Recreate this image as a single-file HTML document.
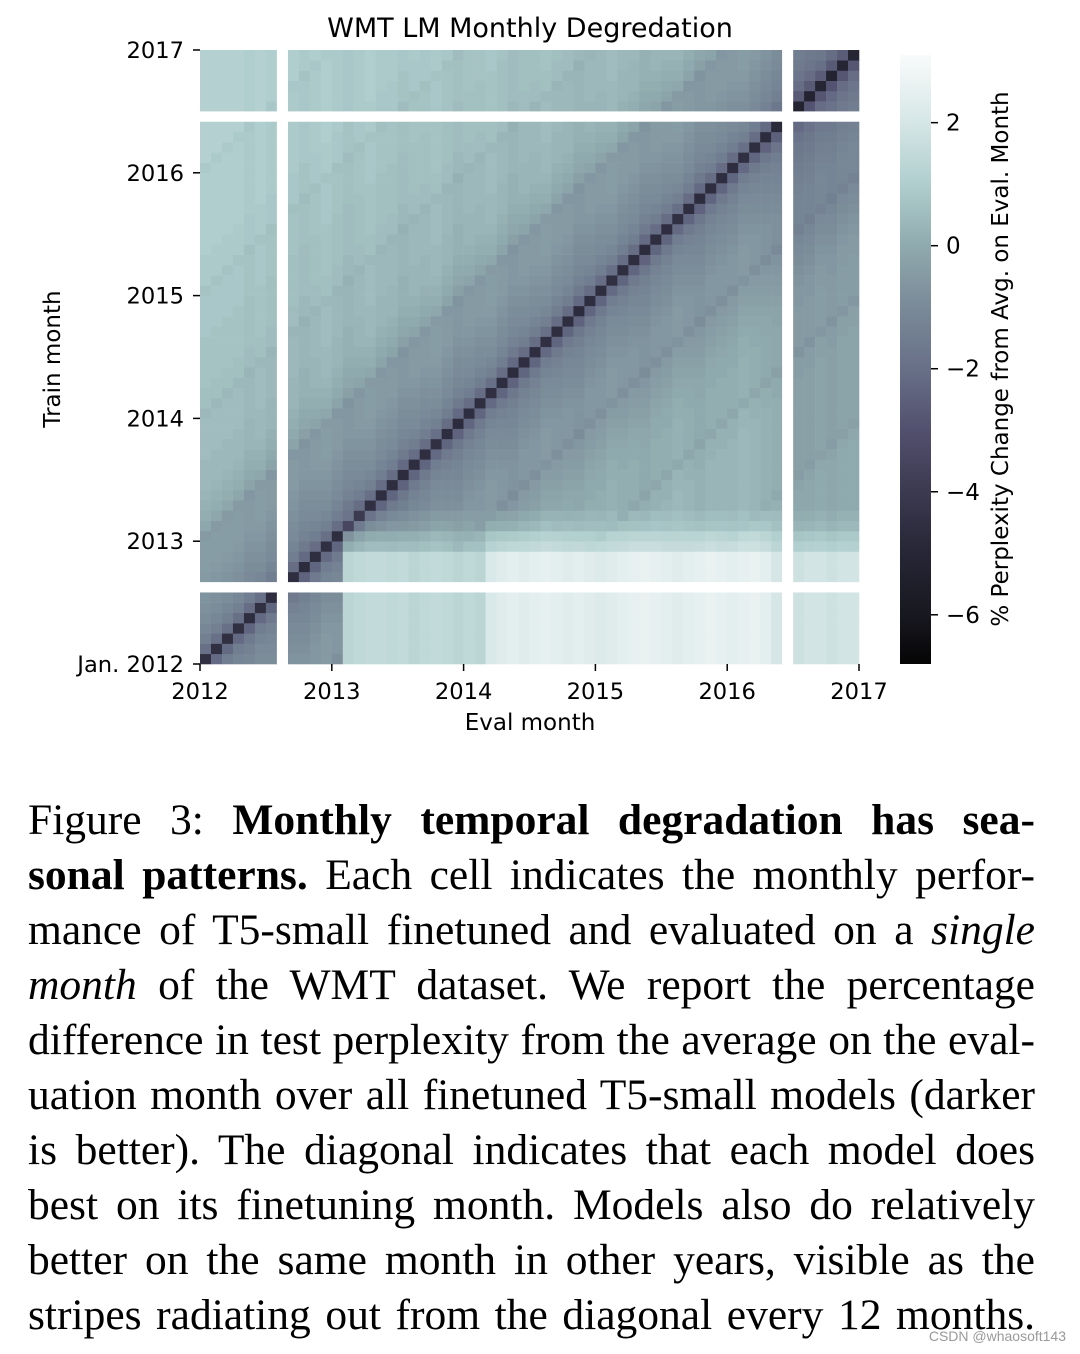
<!DOCTYPE html>
<html><head><meta charset="utf-8">
<style>
body{margin:0;background:#fff;width:1080px;height:1354px;overflow:hidden;position:relative}
svg text{font-family:"DejaVu Sans",sans-serif;fill:#000}
.cap{position:absolute;left:28px;width:1007px;font-family:"Liberation Serif",serif;font-size:43.5px;line-height:55px;color:#000}
.ln{text-align:justify;text-align-last:justify;white-space:nowrap;height:55px}
</style></head><body>
<svg id="chart" width="1080" height="750" style="position:absolute;left:0;top:0">
<g id="cells"></g>
<text x="530" y="37" font-size="27" text-anchor="middle">WMT LM Monthly Degredation</text>
<g id="axes"></g>
<defs><linearGradient id="cb" x1="0" y1="1" x2="0" y2="0"></linearGradient></defs>
<rect x="900" y="55" width="31" height="609" fill="url(#cb)"/>
<text x="530" y="730" font-size="23" text-anchor="middle">Eval month</text>
<text transform="translate(60,359) rotate(-90)" font-size="23" text-anchor="middle">Train month</text>
<text transform="translate(1008,359) rotate(-90)" font-size="23" text-anchor="middle">% Perplexity Change from Avg. on Eval. Month</text>
</svg>
<div class="cap" style="top:793px">
<div class="ln">Figure 3: <b>Monthly temporal degradation has sea-</b></div>
<div class="ln"><b>sonal patterns.</b> Each cell indicates the monthly perfor-</div>
<div class="ln">mance of T5-small finetuned and evaluated on a <i>single</i></div>
<div class="ln"><i>month</i> of the WMT dataset. We report the percentage</div>
<div class="ln">difference in test perplexity from the average on the eval-</div>
<div class="ln">uation month over all finetuned T5-small models (darker</div>
<div class="ln">is better). The diagonal indicates that each model does</div>
<div class="ln">best on its finetuning month. Models also do relatively</div>
<div class="ln">better on the same month in other years, visible as the</div>
<div class="ln">stripes radiating out from the diagonal every 12 months.</div>
</div>
<div style="position:absolute;right:14px;top:1328px;font-family:'Liberation Sans',sans-serif;font-size:14px;color:#999">CSDN @whaosoft143</div>
<script>
// ---- data ----
const yearTicks = ["2012","2013","2014","2015","2016","2017"];
const yTickLabels = ["Jan. 2012","2013","2014","2015","2016","2017"];
const cbTicks = [2,0,-2,-4,-6];
const missingMonths = [7,53];
// value by distance (eval month - train month) when eval is later
const futureDist = [-4.6,-2.3,-1.6,-1.3,-1.1,-1.0,-0.9,-0.8,-0.7,-0.6,-0.6,-0.6,-0.8,-0.5,-0.4,-0.3,-0.2,-0.1,0.0,0.0,0.1,0.1,0.1,0.1,-0.1,0.2,0.2,0.3,0.3,0.3,0.3,0.3,0.3,0.3,0.3,0.3,0.2,0.4,0.5,0.5,0.5,0.5,0.5,0.5,0.5,0.5,0.5,0.5,0.4,0.6,0.6,0.6,0.6,0.6,0.6,0.6,0.6,0.6,0.6,0.6];
// value by distance when eval month is earlier than train month
const pastDist = [-4.6,-2.1,-1.5,-1.2,-1.0,-0.9,-0.8,-0.7,-0.6,-0.5,-0.5,-0.5,-0.6,-0.2,0.0,0.1,0.2,0.3,0.3,0.3,0.4,0.4,0.4,0.4,0.3,0.5,0.5,0.6,0.6,0.6,0.6,0.6,0.7,0.7,0.7,0.7,0.6,0.8,0.8,0.8,0.9,0.9,0.9,0.9,0.9,0.9,0.9,0.9,0.8,1.0,1.0,1.0,1.0,1.0,1.0,1.0,1.0,1.0,1.0,1.0];
// level for 2012-trained models evaluated on later months (cols 13+)
const earlyTrainLateEval = [0,0,0,0,0,0,0,0,0,0,0,0,0,1.3,1.4,1.5,1.5,1.4,1.5,1.3,1.4,1.5,1.4,1.3,1.4,1.3,2.1,2.3,2.4,2.3,2.4,2.5,2.4,2.3,2.4,2.3,2.2,2.3,2.4,2.5,2.6,2.5,2.4,2.3,2.4,2.5,2.6,2.5,2.4,2.5,2.6,2.4,2.0,0,1.8,1.9,1.9,1.8,1.9,1.9];
// how strongly each train month follows that early-2012 pattern
const earlyRowWeight = [1,1,1,1,1,1,1,0,1,1,1,0.6,0.45,0.2,0.1,0,0,0,0,0,0,0,0,0,0,0,0,0,0,0,0,0,0,0,0,0,0,0,0,0,0,0,0,0,0,0,0,0,0,0,0,0,0,0,0,0,0,0,0,0];
// eval-month column offsets
const evalOffset = [0.1,0.1,0.1,0.1,0.0,0.1,0.0,0,0.0,-0.1,0.0,0.1,0.0,-0.1,0.0,0.1,0.0,0.0,-0.1,0.0,0.0,0.1,0.0,-0.1,0.0,0.0,0.1,0.0,-0.1,0.0,0.0,0.1,0.0,0.0,-0.1,0.0,0.0,0.1,0.0,0.0,-0.1,0.0,0.0,0.1,0.0,-0.1,0.0,0.0,0.0,0.1,0.0,-0.1,-0.2,0,-0.6,-0.6,-0.5,-0.6,-0.5,-0.5];
// ---- scales ----
const X0=200,X1=859,Y0=664,Y1=50,N=60;
const cw=(X1-X0)/N, ch=(Y0-Y1)/N;
const xs=m=>X0+m*cw, ys=m=>Y0-m*ch;
const VMIN=-6.8,VMAX=3.1;
const cbY=v=>664-(v-VMIN)/(VMAX-VMIN)*609;
const stops=[[-6.8,[5,5,5]],[-6,[24,24,32]],[-5,[38,38,54]],[-4,[60,58,80]],[-3,[82,80,110]],[-2,[104,112,136]],[-1,[122,138,152]],[0,[143,170,174]],[1,[176,206,206]],[2,[214,230,230]],[3.1,[249,251,251]]];
function color(v){v=Math.max(VMIN,Math.min(VMAX,v));
 for(let k=0;k<stops.length-1;k++){const a=stops[k],b=stops[k+1];
  if(v<=b[0]){const t=(v-a[0])/(b[0]-a[0]);return 'rgb('+a[1].map((c,q)=>Math.round(c+(b[1][q]-c)*t)).join(',')+')';}}
 return 'rgb(249,251,251)';}
const NS='http://www.w3.org/2000/svg';
const cells=document.getElementById('cells');
for(let i=0;i<N;i++){ if(missingMonths.includes(i))continue;
 for(let j=0;j<N;j++){ if(missingMonths.includes(j))continue;
  const d=j-i;
  let v = (d>=0 ? futureDist[d] : pastDist[-d]) + evalOffset[j];
  if(j>=13){const w=earlyRowWeight[i]; v = w*earlyTrainLateEval[j] + (1-w)*v;}
  const r=document.createElementNS(NS,'rect');
  r.setAttribute('x',xs(j).toFixed(2));r.setAttribute('y',ys(i+1).toFixed(2));
  r.setAttribute('width',(cw+0.3).toFixed(2));r.setAttribute('height',(ch+0.3).toFixed(2));
  r.setAttribute('fill',color(v));
  
  
  cells.appendChild(r);}}
missingMonths.forEach(m=>{
 const a=document.createElementNS(NS,'rect');a.setAttribute('x',xs(m));a.setAttribute('y',Y1);a.setAttribute('width',cw);a.setAttribute('height',Y0-Y1);a.setAttribute('fill','#fff');
 
 
 cells.appendChild(a);
 const b=document.createElementNS(NS,'rect');b.setAttribute('x',X0);b.setAttribute('y',ys(m+1));b.setAttribute('width',X1-X0);b.setAttribute('height',ch);b.setAttribute('fill','#fff');
 
 
 cells.appendChild(b);});
const axes=document.getElementById('axes');
function add(tag,attrs,txt){const e=document.createElementNS(NS,tag);for(const k in attrs)e.setAttribute(k,attrs[k]);if(txt!==undefined)e.textContent=txt;axes.appendChild(e);return e;}
yearTicks.forEach((t,k)=>{const x=xs(k*12);
 const l=add('line',{x1:x,x2:x,y1:Y0,y2:Y0+7,stroke:'#000','stroke-width':1.5});
 
 
 const tx=add('text',{x:x,y:699,'font-size':22.6,'text-anchor':'middle'},t);
 
 });
yTickLabels.forEach((t,k)=>{const y=ys(k*12);
 const l=add('line',{x1:193,x2:X0,y1:y,y2:y,stroke:'#000','stroke-width':1.5});
 
 
 const tx=add('text',{x:184,y:y+8,'font-size':22.6,'text-anchor':'end'},t);
 
 });
const g=document.getElementById('cb');
stops.forEach(s=>{const st=document.createElementNS(NS,'stop');st.setAttribute('offset',((s[0]-VMIN)/(VMAX-VMIN)).toFixed(4));st.setAttribute('stop-color',color(s[0]));g.appendChild(st);});
cbTicks.forEach(v=>{const y=cbY(v);
 const l=add('line',{x1:931,x2:938,y1:y,y2:y,stroke:'#000','stroke-width':1.5});
 
 
 const tx=add('text',{x:946,y:y+8,'font-size':23},v<0?'\u2212'+(-v):String(v));
 
 });
</script>
</body></html>
